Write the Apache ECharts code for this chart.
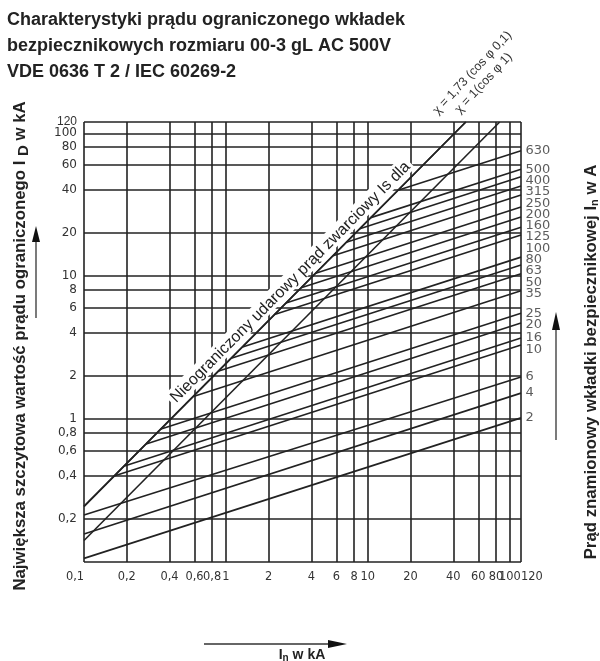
<!DOCTYPE html>
<html>
<head>
<meta charset="utf-8">
<script src="https://cdn.jsdelivr.net/npm/echarts@6/dist/echarts.min.js"></script>
<style>
html, body { margin: 0; padding: 0; background: #fff; }
#chart { width: 600px; height: 661px; }
</style>
</head>
<body>
<div id="chart"></div>
<script>
// fuse ratings In (A)
const ratings = ['2', '4', '6', '10', '16', '20', '25', '35', '50', '63', '80', '100', '125', '160', '200', '250', '315', '400', '500', '630'];
// start of each characteristic (prospective current kA / cut-off current kA)
const startX = [0.1, 0.1, 0.1, 0.163, 0.193, 0.274, 0.345, 0.59, 0.88, 1.09, 1.31, 2.2, 2.65, 3.39, 4.29, 5.69, 7.05, 8.77, 10.5, 16.3];
const startY = [0.106, 0.157, 0.213, 0.40, 0.47, 0.67, 0.85, 1.44, 2.16, 2.67, 3.2, 5.4, 6.5, 8.3, 10.5, 13.9, 17.3, 21.5, 25.7, 39.9];
// end of each characteristic at 120 kA
const endX = [120, 120, 120, 120, 120, 120, 120, 120, 120, 120, 120, 120, 120, 120, 120, 120, 120, 120, 120, 120];
const endY = [1.02, 1.52, 1.97, 3.3, 3.7, 4.7, 5.5, 7.9, 10.4, 12, 13.6, 19.4, 22, 26, 30.5, 37, 42.8, 49.7, 56, 75.5];
// unlimited peak short-circuit current
const chi173X = [0.1, 49];
const chi173Y = [0.245, 120];
const chi1X = [0.1, 84.9];
const chi1Y = [0.1414, 120];
// grid / tick values
const gridValues = [0.1, 0.2, 0.4, 0.6, 0.8, 1, 2, 4, 6, 8, 10, 20, 40, 60, 80, 100, 120];
const tickLabels = ['0,1', '0,2', '0,4', '0,6', '0,8', '1', '2', '4', '6', '8', '10', '20', '40', '60', '80', '100', '120'];

const ink = '#222';
const lineStyle = { color: ink, width: 1.6 };
const tickFont = { fontFamily: 'DejaVu Sans', fontSize: 12, color: '#333' };

const tickText = v => {
  let best = 0;
  gridValues.forEach((g, i) => {
    if (Math.abs(Math.log(g) - Math.log(v)) < Math.abs(Math.log(gridValues[best]) - Math.log(v))) best = i;
  });
  return tickLabels[best];
};

const chart = echarts.init(document.getElementById('chart'));

const series = ratings.map((r, i) => ({
  type: 'line',
  name: r,
  data: [[startX[i], startY[i]], [endX[i], endY[i]]],
  symbol: 'none',
  lineStyle: lineStyle,
  silent: true
}));

series.push({
  type: 'line',
  name: 'chi1',
  data: chi1X.map((x, i) => [x, chi1Y[i]]),
  symbol: 'none',
  lineStyle: lineStyle,
  silent: true
});

series.push({
  type: 'line',
  name: 'chi173',
  z: 10,
  data: chi173X.map((x, i) => [x, chi173Y[i]]),
  symbol: 'none',
  lineStyle: lineStyle,
  silent: true,
  markLine: {
    silent: true,
    symbol: ['none', 'none'],
    lineStyle: { color: ink, width: 1.6, type: 'solid' },
    label: {
      show: true,
      position: 'insideMiddleTop',
      formatter: 'Nieograniczony udarowy prąd zwarciowy Is dla',
      fontFamily: 'Liberation Sans',
      fontSize: 16,
      color: ink,
      backgroundColor: '#fff',
      padding: [2, 3, 0, 3],
      distance: 5,
      offset: [30, 0]
    },
    data: [[{ coord: [chi173X[0], chi173Y[0]] }, { coord: [chi173X[1], chi173Y[1]] }]]
  }
});

// rating labels at the right edge
series.push({
  type: 'scatter',
  id: 'ratingLabels',
  data: endX.map((x, i) => [x, endY[i]]),
  symbolSize: 1,
  itemStyle: { color: 'rgba(0,0,0,0)' },
  silent: true,
  label: {
    show: true,
    position: 'right',
    distance: 4,
    formatter: p => ratings[p.dataIndex],
    fontFamily: 'DejaVu Sans',
    fontSize: 13,
    color: '#333'
  }
});

const option = {
  animation: false,
  backgroundColor: '#fff',
  title: {
    text: 'Charakterystyki prądu ograniczonego wkładek\nbezpiecznikowych rozmiaru 00-3 gL AC 500V\nVDE 0636 T 2 / IEC 60269-2',
    left: 7,
    top: 7,
    padding: 0,
    textStyle: { fontFamily: 'Liberation Sans', fontSize: 18, fontWeight: 'bold', lineHeight: 26, color: ink }
  },
  grid: { left: 84, right: 79, top: 122, bottom: 99 },
  xAxis: {
    type: 'log',
    logBase: 10,
    min: 0.1,
    max: 120,
    axisLine: { show: false },
    axisTick: { show: false, customValues: gridValues },
    axisLabel: Object.assign({}, tickFont, {
      customValues: gridValues,
      formatter: tickText,
      margin: 10,
      hideOverlap: false,
      showMinLabel: true,
      showMaxLabel: true,
      fontSize: 11.4,
      alignMinLabel: 'right',
      alignMaxLabel: 'left'
    }),
    splitLine: { show: true, lineStyle: lineStyle }
  },
  yAxis: {
    type: 'log',
    logBase: 10,
    min: 0.1,
    max: 120,
    axisLine: { show: false },
    axisTick: { show: false, customValues: gridValues },
    axisLabel: Object.assign({}, tickFont, {
      customValues: gridValues.slice(1, -1),
      formatter: tickText,
      margin: 7,
      hideOverlap: false
    }),
    splitLine: { show: true, lineStyle: lineStyle }
  },
  graphic: [
    {
      type: 'text', x: 440, y: 117, rotation: 47 * Math.PI / 180,
      style: { text: 'χ = 1,73 (cos φ 0,1)', font: '12.5px "Liberation Sans"', fill: '#333', textVerticalAlign: 'bottom' }
    },
    {
      type: 'text', x: 462, y: 116, rotation: 47 * Math.PI / 180,
      style: { text: 'χ = 1(cos φ 1)', font: '12.5px "Liberation Sans"', fill: '#333', textVerticalAlign: 'bottom' }
    },
    {
      type: 'text', x: 20, y: 346, rotation: Math.PI / 2,
      style: {
        text: '{m|Największa szczytowa wartość prądu ograniczonego I }{s|D}{m| w kA}',
        textAlign: 'center', textVerticalAlign: 'middle',
        rich: {
          m: { fontFamily: 'Liberation Sans', fontSize: 16.8, fontWeight: 'bold', fill: ink },
          s: { fontFamily: 'Liberation Sans', fontSize: 15, fontWeight: 'bold', fill: ink, padding: [8, 0, 0, 0] }
        }
      }
    },
    {
      type: 'text', x: 591, y: 362, rotation: Math.PI / 2,
      style: {
        text: '{m|Prąd znamionowy wkładki bezpiecznikowej I}{s|n}{m| w A}',
        textAlign: 'center', textVerticalAlign: 'middle',
        rich: {
          m: { fontFamily: 'Liberation Sans', fontSize: 16.8, fontWeight: 'bold', fill: ink },
          s: { fontFamily: 'Liberation Sans', fontSize: 11, fontWeight: 'bold', fill: ink, padding: [8, 0, 0, 0] }
        }
      }
    },
    {
      type: 'text', x: 302, y: 655,
      style: {
        text: '{m|I}{s|n}{m| w kA}',
        textAlign: 'center', textVerticalAlign: 'middle',
        rich: {
          m: { fontFamily: 'Liberation Sans', fontSize: 14, fontWeight: 'bold', fill: ink },
          s: { fontFamily: 'Liberation Sans', fontSize: 10, fontWeight: 'bold', fill: ink, padding: [7, 0, 0, 0] }
        }
      }
    },
    // top y tick label, placed after layout (kept apart from the overlap check)
    {
      type: 'text', id: 'yMaxLabel', x: 77, y: 122,
      style: { text: tickLabels[tickLabels.length - 1], font: '12px "DejaVu Sans"', fill: '#333', textAlign: 'right', textVerticalAlign: 'middle' }
    },
    // arrows
    { type: 'line', shape: { x1: 36, y1: 318, x2: 36, y2: 236 }, style: { stroke: '#333', lineWidth: 1.3 } },
    { type: 'polygon', shape: { points: [[36, 226], [32, 242], [40, 242]] }, style: { fill: '#111' } },
    { type: 'line', shape: { x1: 556, y1: 440, x2: 556, y2: 322 }, style: { stroke: '#333', lineWidth: 1.3 } },
    { type: 'polygon', shape: { points: [[556, 312], [552, 330], [560, 330]] }, style: { fill: '#111' } },
    { type: 'line', shape: { x1: 204, y1: 644, x2: 334, y2: 644 }, style: { stroke: '#333', lineWidth: 1.3 } },
    { type: 'polygon', shape: { points: [[347, 644], [328, 640], [328, 648]] }, style: { fill: '#111' } }
  ],
  series: series
};

chart.setOption(option);

// push crowded rating labels downwards so they keep a minimum gap
const gap = 11.3;
const natural = endY.map((v, i) => chart.convertToPixel({ gridIndex: 0 }, [endX[i], v])[1]);
const pos = natural.slice();
const order = natural.map((_, i) => i).sort((a, b) => natural[a] - natural[b]);
for (let j = 1; j < order.length; j++) {
  const a = order[j - 1], b = order[j];
  if (pos[b] - pos[a] < gap) pos[b] = pos[a] + gap;
}
const topPx = chart.convertToPixel({ gridIndex: 0 }, [gridValues[0], gridValues[gridValues.length - 1]]);

chart.setOption({
  series: [{
    id: 'ratingLabels',
    data: endX.map((x, i) => ({ value: [x, endY[i]], label: { offset: [0, pos[i] - natural[i]] } }))
  }],
  graphic: [{ id: 'yMaxLabel', x: topPx[0] - 7, y: topPx[1] }]
});
</script>
</body>
</html>
